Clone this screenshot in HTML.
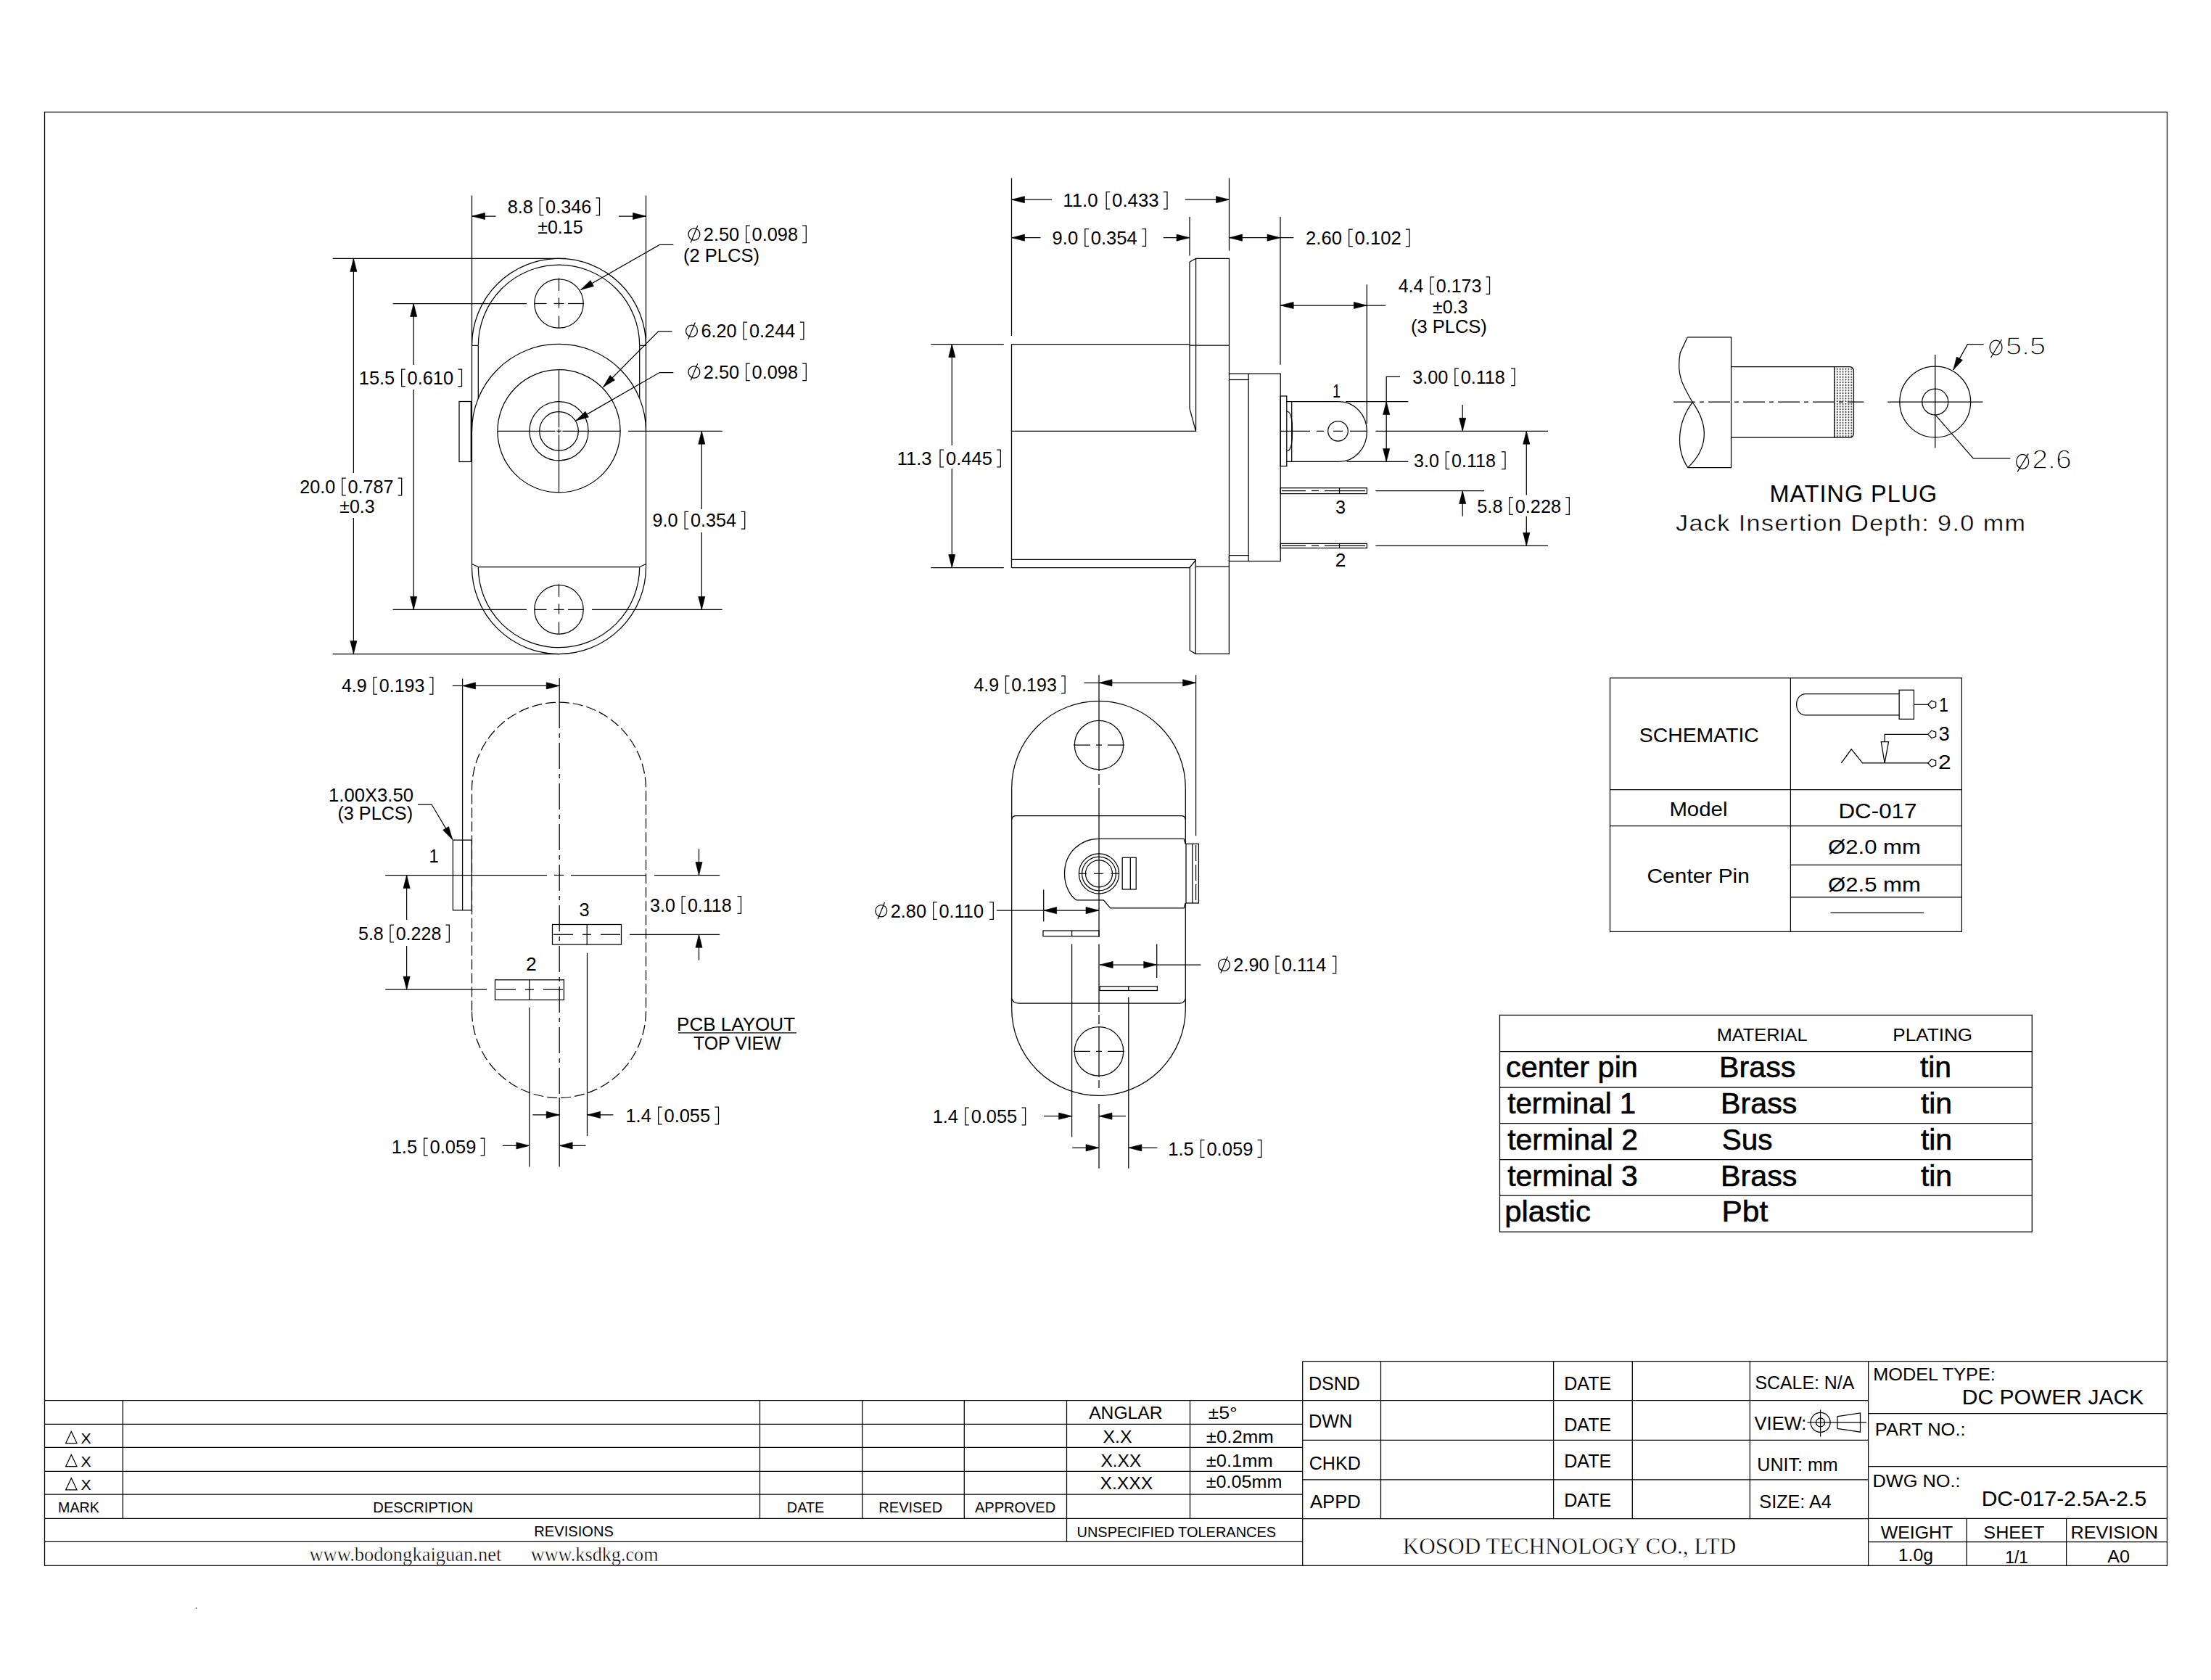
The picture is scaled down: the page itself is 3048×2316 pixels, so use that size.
<!DOCTYPE html>
<html><head><meta charset="utf-8"><title>DC-017 drawing</title>
<style>
html,body{margin:0;padding:0;background:#fff;}
body{width:3048px;height:2316px;overflow:hidden;}
svg{display:block;}
svg line, svg path, svg circle, svg rect, svg ellipse{fill:none;stroke:#000;stroke-width:1.25;}
svg path.ar{fill:#000;stroke:#000;stroke-width:0.6;}
svg text{font-family:"Liberation Sans",sans-serif;fill:#000;stroke:none;}
svg text.ts{font-family:"Liberation Serif",serif;}
</style></head><body>
<svg width="3048" height="2316" viewBox="0 0 3048 2316">
<rect x="0" y="0" width="3048" height="2316" style="fill:#fff;stroke:none"/>
<rect x="61.5" y="154.5" width="2926" height="2003.8" stroke-width="1.4"/>
<line x1="650.5" y1="269.4" x2="650.5" y2="781.5"/>
<line x1="890.5" y1="269.4" x2="890.5" y2="781.5"/>
<path d="M650.5 476.4 A120 120 0 0 1 890.5 476.4"/>
<path d="M650.5 781.5 A120 120 0 0 0 890.5 781.5"/>
<path d="M659.3 476.4 A111.2 111.2 0 0 1 881.7 476.4"/>
<path d="M659.3 781.5 A111.2 111.2 0 0 0 881.7 781.5"/>
<line x1="650.5" y1="476.4" x2="659.3" y2="476.4"/>
<line x1="890.5" y1="476.4" x2="881.7" y2="476.4"/>
<line x1="659.3" y1="476.4" x2="659.3" y2="549.19"/>
<line x1="881.7" y1="476.4" x2="881.7" y2="549.19"/>
<path d="M650.5 594.3 A120 120 0 0 1 890.5 594.3"/>
<line x1="659.3" y1="781.5" x2="881.7" y2="781.5"/>
<line x1="650.5" y1="777.5" x2="659.3" y2="781.5"/>
<line x1="890.5" y1="777.5" x2="881.7" y2="781.5"/>
<circle cx="770.5" cy="418.5" r="33.7"/>
<line x1="763.5" y1="418.5" x2="777.5" y2="418.5"/>
<line x1="770.5" y1="410.5" x2="770.5" y2="424.5"/>
<line x1="736.5" y1="418.5" x2="753.5" y2="418.5"/>
<line x1="783" y1="418.5" x2="804.5" y2="418.5"/>
<line x1="770.5" y1="383.5" x2="770.5" y2="401"/>
<line x1="770.5" y1="435.5" x2="770.5" y2="452.5"/>
<circle cx="770.5" cy="840.4" r="33.7"/>
<line x1="763.5" y1="840.4" x2="777.5" y2="840.4"/>
<line x1="770.5" y1="832.4" x2="770.5" y2="846.4"/>
<line x1="736.5" y1="840.4" x2="753.5" y2="840.4"/>
<line x1="783" y1="840.4" x2="804.5" y2="840.4"/>
<line x1="770.5" y1="805.4" x2="770.5" y2="822.9"/>
<line x1="770.5" y1="857.4" x2="770.5" y2="874.4"/>
<circle cx="770.5" cy="594.3" r="84.6"/>
<circle cx="770.5" cy="594.3" r="40.6"/>
<circle cx="770.5" cy="594.3" r="26.8"/>
<line x1="685.9" y1="594.3" x2="765.5" y2="594.3"/>
<line x1="775.5" y1="594.3" x2="855.1" y2="594.3"/>
<line x1="770.5" y1="509.7" x2="770.5" y2="589.3"/>
<line x1="770.5" y1="599.3" x2="770.5" y2="678.9"/>
<line x1="767.5" y1="594.3" x2="773.5" y2="594.3"/>
<line x1="770.5" y1="591.3" x2="770.5" y2="597.3"/>
<rect x="633" y="553.5" width="16.3" height="83"/>
<line x1="650.5" y1="298" x2="683.5" y2="298"/>
<line x1="853" y1="298" x2="890.5" y2="298"/>
<path class="ar" d="M650.5 298 L668.5 293.4 L668.5 302.6 Z"/>
<path class="ar" d="M890.5 298 L872.5 302.6 L872.5 293.4 Z"/>
<text class="t" transform="translate(699.8 293.7) scale(1.0099 1.0000)" font-size="25">8.8</text>
<path d="M749.36 272.9 L744.31 272.9 L744.31 296.5 L749.36 296.5" stroke-width="1.1"/>
<text class="t" transform="translate(752.11 293.7) scale(1.0099 1.0000)" font-size="25">0.346</text>
<path d="M821.45 272.9 L826.5 272.9 L826.5 296.5 L821.45 296.5" stroke-width="1.1"/>
<text class="t" x="741.21" y="321.7" font-size="25">±0.15</text>
<line x1="458.7" y1="356.4" x2="780" y2="356.4"/>
<line x1="458.7" y1="901.5" x2="771" y2="901.5"/>
<line x1="487.4" y1="356.4" x2="487.4" y2="652"/>
<line x1="487.4" y1="714" x2="487.4" y2="901.5"/>
<path class="ar" d="M487.4 356.4 L492 374.4 L482.8 374.4 Z"/>
<path class="ar" d="M487.4 901.5 L482.8 883.5 L492 883.5 Z"/>
<text class="t" transform="translate(413.23 680) scale(1.0083 1.0000)" font-size="25">20.0</text>
<path d="M476.84 659.2 L471.8 659.2 L471.8 682.8 L476.84 682.8" stroke-width="1.1"/>
<text class="t" transform="translate(479.58 680) scale(1.0083 1.0000)" font-size="25">0.787</text>
<path d="M548.66 659.2 L553.7 659.2 L553.7 682.8 L548.66 682.8" stroke-width="1.1"/>
<text class="t" x="468.2" y="707.3" font-size="25">±0.3</text>
<line x1="541.6" y1="418.5" x2="726" y2="418.5"/>
<line x1="541.6" y1="840.4" x2="726" y2="840.4"/>
<line x1="570.2" y1="418.5" x2="570.2" y2="503"/>
<line x1="570.2" y1="537" x2="570.2" y2="840.4"/>
<path class="ar" d="M570.2 418.5 L574.8 436.5 L565.6 436.5 Z"/>
<path class="ar" d="M570.2 840.4 L565.6 822.4 L574.8 822.4 Z"/>
<text class="t" transform="translate(494.77 529.8) scale(1.0159 1.0000)" font-size="25">15.5</text>
<path d="M558.78 509 L553.7 509 L553.7 532.6 L558.78 532.6" stroke-width="1.1"/>
<text class="t" transform="translate(561.54 529.8) scale(1.0159 1.0000)" font-size="25">0.610</text>
<path d="M631.42 509 L636.5 509 L636.5 532.6 L631.42 532.6" stroke-width="1.1"/>
<line x1="866.2" y1="594.3" x2="995.7" y2="594.3"/>
<line x1="816" y1="840.4" x2="995.6" y2="840.4"/>
<line x1="967.3" y1="594.3" x2="967.3" y2="702"/>
<line x1="967.3" y1="734" x2="967.3" y2="840.4"/>
<path class="ar" d="M967.3 594.3 L971.9 612.3 L962.7 612.3 Z"/>
<path class="ar" d="M967.3 840.4 L962.7 822.4 L971.9 822.4 Z"/>
<text class="t" transform="translate(899.52 726.2) scale(1.0100 1.0000)" font-size="25">9.0</text>
<path d="M949.18 705.4 L944.13 705.4 L944.13 729 L949.18 729" stroke-width="1.1"/>
<text class="t" transform="translate(951.93 726.2) scale(1.0100 1.0000)" font-size="25">0.354</text>
<path d="M1021.65 705.4 L1026.7 705.4 L1026.7 729 L1021.65 729" stroke-width="1.1"/>
<path d="M928.3 337.4 L909.3 337.4 L800.6 399.5"/>
<path class="ar" d="M800.6 399.5 L813.95 386.58 L818.51 394.57 Z"/>
<ellipse cx="956.9" cy="323" rx="7.9" ry="8.2" stroke-width="1.1"/>
<line x1="952.2" y1="334.4" x2="961.7" y2="311.3" stroke-width="1.1"/>
<text class="t" transform="translate(969.84 331.8) scale(1.0142 1.0000)" font-size="25">2.50</text>
<path d="M1033.81 311 L1028.74 311 L1028.74 334.6 L1033.81 334.6" stroke-width="1.1"/>
<text class="t" transform="translate(1036.58 331.8) scale(1.0142 1.0000)" font-size="25">0.098</text>
<path d="M1106.23 311 L1111.3 311 L1111.3 334.6 L1106.23 334.6" stroke-width="1.1"/>
<text class="t" transform="translate(942.02 360.8) scale(1.0200 1.0000)" font-size="25">(2 PLCS)</text>
<path d="M926.6 456.8 L907.6 456.8 L831.6 533.5"/>
<path class="ar" d="M831.6 533.5 L841 517.48 L847.54 523.95 Z"/>
<ellipse cx="953.5" cy="456.2" rx="7.9" ry="8.2" stroke-width="1.1"/>
<line x1="948.8" y1="467.6" x2="958.3" y2="444.5" stroke-width="1.1"/>
<text class="t" transform="translate(966.38 465) scale(1.0121 1.0000)" font-size="25">6.20</text>
<path d="M1030.22 444.2 L1025.16 444.2 L1025.16 467.8 L1030.22 467.8" stroke-width="1.1"/>
<text class="t" transform="translate(1032.98 465) scale(1.0121 1.0000)" font-size="25">0.244</text>
<path d="M1102.84 444.2 L1107.9 444.2 L1107.9 467.8 L1102.84 467.8" stroke-width="1.1"/>
<path d="M928.3 513.5 L909.3 513.5 L793.6 580.1"/>
<path class="ar" d="M793.6 580.1 L806.91 567.13 L811.49 575.11 Z"/>
<ellipse cx="956.9" cy="513" rx="7.9" ry="8.2" stroke-width="1.1"/>
<line x1="952.2" y1="524.4" x2="961.7" y2="501.3" stroke-width="1.1"/>
<text class="t" transform="translate(969.84 521.8) scale(1.0142 1.0000)" font-size="25">2.50</text>
<path d="M1033.81 501 L1028.74 501 L1028.74 524.6 L1033.81 524.6" stroke-width="1.1"/>
<text class="t" transform="translate(1036.58 521.8) scale(1.0142 1.0000)" font-size="25">0.098</text>
<path d="M1106.23 501 L1111.3 501 L1111.3 524.6 L1106.23 524.6" stroke-width="1.1"/>
<path d="M650.5 1393.4 L650.5 1088.2 A120 120 0 0 1 890.5 1088.2 L890.5 1393.4 A120 120 0 0 1 650.5 1393.4 Z" stroke-dasharray="14 5"/>
<line x1="771.2" y1="935" x2="771.2" y2="968"/>
<line x1="771.2" y1="968" x2="771.2" y2="1513" stroke-dasharray="36 7 6 7"/>
<line x1="771.2" y1="1513" x2="771.2" y2="1608.4"/>
<line x1="531.2" y1="1206.5" x2="754" y2="1206.5"/>
<line x1="764" y1="1206.5" x2="777" y2="1206.5"/>
<line x1="787" y1="1206.5" x2="890" y2="1206.5"/>
<line x1="902" y1="1206.5" x2="992.2" y2="1206.5"/>
<rect x="624.4" y="1158.1" width="25.9" height="96.7"/>
<line x1="637.6" y1="935.4" x2="637.6" y2="1254.8"/>
<rect x="761.5" y="1274.5" width="95" height="27.6"/>
<line x1="809.2" y1="1274.5" x2="809.2" y2="1302.1"/>
<line x1="763" y1="1288.3" x2="790" y2="1288.3"/>
<line x1="803" y1="1288.3" x2="815" y2="1288.3"/>
<line x1="828" y1="1288.3" x2="855" y2="1288.3"/>
<rect x="682.5" y="1350.8" width="94.9" height="27.6"/>
<line x1="729.8" y1="1350.8" x2="729.8" y2="1378.4"/>
<line x1="684" y1="1364.2" x2="711" y2="1364.2"/>
<line x1="724" y1="1364.2" x2="736" y2="1364.2"/>
<line x1="749" y1="1364.2" x2="776" y2="1364.2"/>
<text class="t" transform="translate(591.58 1189.2) scale(0.9556 1.0000)" font-size="25">1</text>
<text class="t" transform="translate(798.53 1263.4) scale(1.0208 1.0000)" font-size="25">3</text>
<text class="t" transform="translate(724.96 1337.7) scale(1.0624 1.0000)" font-size="25">2</text>
<line x1="623.8" y1="945.4" x2="771.2" y2="945.4"/>
<path class="ar" d="M637.6 945.4 L655.6 940.8 L655.6 950 Z"/>
<path class="ar" d="M771.2 945.4 L753.2 950 L753.2 940.8 Z"/>
<text class="t" x="470.92" y="954.4" font-size="25">4.9</text>
<path d="M520.1 933.6 L515.08 933.6 L515.08 957.2 L520.1 957.2" stroke-width="1.1"/>
<text class="t" x="522.83" y="954.4" font-size="25">0.193</text>
<path d="M591.78 933.6 L596.8 933.6 L596.8 957.2 L591.78 957.2" stroke-width="1.1"/>
<path d="M576 1109 L595 1109 L623.8 1157.4"/>
<path class="ar" d="M623.8 1157.4 L610.64 1144.28 L618.55 1139.58 Z"/>
<text class="t" transform="translate(453.05 1104.6) scale(1.0260 1.0000)" font-size="25">1.00X3.50</text>
<text class="t" transform="translate(465.44 1130) scale(1.0080 1.0000)" font-size="25">(3 PLCS)</text>
<line x1="963.5" y1="1170.2" x2="963.5" y2="1206.5"/>
<path class="ar" d="M963.5 1206.5 L958.9 1188.5 L968.1 1188.5 Z"/>
<line x1="963.5" y1="1323.8" x2="963.5" y2="1288.3"/>
<path class="ar" d="M963.5 1288.3 L968.1 1306.3 L958.9 1306.3 Z"/>
<line x1="867.9" y1="1288.3" x2="992.2" y2="1288.3"/>
<text class="t" x="896.05" y="1256.5" font-size="25">3.0</text>
<path d="M945.18 1235.7 L940.18 1235.7 L940.18 1259.3 L945.18 1259.3" stroke-width="1.1"/>
<text class="t" x="947.9" y="1256.5" font-size="25">0.118</text>
<path d="M1016.5 1235.7 L1021.5 1235.7 L1021.5 1259.3 L1016.5 1259.3" stroke-width="1.1"/>
<line x1="560.6" y1="1206.5" x2="560.6" y2="1268"/>
<line x1="560.6" y1="1304" x2="560.6" y2="1364.2"/>
<path class="ar" d="M560.6 1206.5 L565.2 1224.5 L556 1224.5 Z"/>
<path class="ar" d="M560.6 1364.2 L556 1346.2 L565.2 1346.2 Z"/>
<line x1="531.2" y1="1364.2" x2="671" y2="1364.2"/>
<text class="t" x="494" y="1296" font-size="25">5.8</text>
<path d="M543 1275.2 L538.01 1275.2 L538.01 1298.8 L543 1298.8" stroke-width="1.1"/>
<text class="t" x="545.72" y="1296" font-size="25">0.228</text>
<path d="M614.31 1275.2 L619.3 1275.2 L619.3 1298.8 L614.31 1298.8" stroke-width="1.1"/>
<line x1="729.8" y1="1389" x2="729.8" y2="1608.4"/>
<line x1="809.5" y1="1313.8" x2="809.5" y2="1565.9"/>
<line x1="734.3" y1="1536.9" x2="771.2" y2="1536.9"/>
<path class="ar" d="M771.2 1536.9 L753.2 1541.5 L753.2 1532.3 Z"/>
<line x1="809.5" y1="1536.9" x2="845.4" y2="1536.9"/>
<path class="ar" d="M809.5 1536.9 L827.5 1532.3 L827.5 1541.5 Z"/>
<text class="t" transform="translate(862.46 1547) scale(1.0173 1.0000)" font-size="25">1.4</text>
<path d="M912.74 1526.2 L907.65 1526.2 L907.65 1549.8 L912.74 1549.8" stroke-width="1.1"/>
<text class="t" transform="translate(915.51 1547) scale(1.0173 1.0000)" font-size="25">0.055</text>
<path d="M985.41 1526.2 L990.5 1526.2 L990.5 1549.8 L985.41 1549.8" stroke-width="1.1"/>
<line x1="692.8" y1="1579.4" x2="729.8" y2="1579.4"/>
<path class="ar" d="M729.8 1579.4 L711.8 1584 L711.8 1574.8 Z"/>
<line x1="771.2" y1="1579.4" x2="807.5" y2="1579.4"/>
<path class="ar" d="M771.2 1579.4 L789.2 1574.8 L789.2 1584 Z"/>
<text class="t" transform="translate(539.66 1590) scale(1.0202 1.0000)" font-size="25">1.5</text>
<path d="M589.75 1569.2 L584.65 1569.2 L584.65 1592.8 L589.75 1592.8" stroke-width="1.1"/>
<text class="t" transform="translate(592.53 1590) scale(1.0202 1.0000)" font-size="25">0.059</text>
<path d="M662.5 1569.2 L667.6 1569.2 L667.6 1592.8 L662.5 1592.8" stroke-width="1.1"/>
<text class="t" transform="translate(933.06 1421) scale(1.0421 1.0000)" font-size="25">PCB LAYOUT</text>
<line x1="935" y1="1423.8" x2="1098" y2="1423.8"/>
<text class="t" transform="translate(956.04 1446.8) scale(0.9944 1.0000)" font-size="25">TOP VIEW</text>
<line x1="1394.5" y1="245.5" x2="1394.5" y2="463"/>
<line x1="1394.5" y1="474.5" x2="1394.5" y2="782.5"/>
<line x1="1394.5" y1="474.5" x2="1640" y2="474.5"/>
<line x1="1394.5" y1="594.3" x2="1648.6" y2="594.3"/>
<line x1="1394.5" y1="771.4" x2="1648.6" y2="771.4"/>
<line x1="1394.5" y1="782.5" x2="1640" y2="782.5"/>
<line x1="1640" y1="782.5" x2="1648.6" y2="772"/>
<path d="M1640 361 L1648.6 356.4 L1694.5 356.4 L1694.5 515.2"/>
<line x1="1640" y1="361" x2="1640" y2="563.2"/>
<line x1="1640" y1="563.2" x2="1648.6" y2="594.9"/>
<line x1="1648.6" y1="356.4" x2="1648.6" y2="594.3"/>
<line x1="1640" y1="476.2" x2="1694.5" y2="476.2"/>
<path d="M1640.3 781.7 L1640.3 896.7 L1648.2 901.4 L1694.4 901.4 L1694.4 765.6"/>
<line x1="1648.2" y1="771.3" x2="1648.2" y2="901.4"/>
<line x1="1648.2" y1="781.2" x2="1694.4" y2="781.2"/>
<rect x="1694.5" y="515.2" width="70.7" height="258.4"/>
<line x1="1694.5" y1="523.5" x2="1721.1" y2="523.5"/>
<line x1="1721.1" y1="515.2" x2="1721.1" y2="773.6"/>
<line x1="1694.4" y1="765.6" x2="1721.1" y2="765.6"/>
<rect x="1765.2" y="546" width="8.6" height="96.6"/>
<line x1="1773.8" y1="553.5" x2="1846.3" y2="553.5"/>
<line x1="1773.8" y1="636.4" x2="1846.3" y2="636.4"/>
<path d="M1846.3 553.5 A38.1 41.45 0 0 1 1846.3 636.4"/>
<line x1="1780.7" y1="553.5" x2="1780.7" y2="636.4"/>
<path d="M1774 567 Q1782 568 1781.5 594.3 Q1782 621 1774 622"/>
<circle cx="1844.5" cy="594.3" r="13.8"/>
<line x1="1765.2" y1="594.3" x2="1806" y2="594.3"/>
<line x1="1815" y1="594.3" x2="1825" y2="594.3"/>
<line x1="1838" y1="594.3" x2="1851" y2="594.3"/>
<line x1="1861" y1="594.3" x2="1885" y2="594.3"/>
<line x1="1896.4" y1="594.3" x2="2134" y2="594.3"/>
<rect x="1765.2" y="672.7" width="119.2" height="7.9"/>
<line x1="1846.5" y1="672.7" x2="1846.5" y2="680.6"/>
<line x1="1767" y1="676.5" x2="1800" y2="676.5"/>
<line x1="1808" y1="676.5" x2="1818" y2="676.5"/>
<line x1="1826" y1="676.5" x2="1882" y2="676.5"/>
<rect x="1765.2" y="749.4" width="119.2" height="6.1"/>
<line x1="1846.5" y1="749.4" x2="1846.5" y2="755.5"/>
<line x1="1767" y1="752.4" x2="1800" y2="752.4"/>
<line x1="1808" y1="752.4" x2="1818" y2="752.4"/>
<line x1="1826" y1="752.4" x2="1882" y2="752.4"/>
<line x1="1896.4" y1="676.5" x2="2046" y2="676.5"/>
<line x1="1896.4" y1="752.4" x2="2134" y2="752.4"/>
<text class="t" transform="translate(1837 547.7) scale(0.7886 1.0000)" font-size="25">1</text>
<text class="t" transform="translate(1841.04 708.2) scale(1.0124 1.0000)" font-size="25">3</text>
<text class="t" transform="translate(1840.68 780.8) scale(1.0536 1.0000)" font-size="25">2</text>
<line x1="1694.5" y1="245.5" x2="1694.5" y2="345.7"/>
<line x1="1394.5" y1="275.2" x2="1450" y2="275.2"/>
<line x1="1633.8" y1="275.2" x2="1694.5" y2="275.2"/>
<path class="ar" d="M1394.5 275.2 L1412.5 270.6 L1412.5 279.8 Z"/>
<path class="ar" d="M1694.5 275.2 L1676.5 279.8 L1676.5 270.6 Z"/>
<text class="t" transform="translate(1465.34 285.3) scale(1.0301 1.0000)" font-size="25">11.0</text>
<path d="M1530.32 264.5 L1525.17 264.5 L1525.17 288.1 L1530.32 288.1" stroke-width="1.1"/>
<text class="t" transform="translate(1533.12 285.3) scale(1.0301 1.0000)" font-size="25">0.433</text>
<path d="M1603.85 264.5 L1609 264.5 L1609 288.1 L1603.85 288.1" stroke-width="1.1"/>
<line x1="1640" y1="299" x2="1640" y2="352.6"/>
<line x1="1394.5" y1="327.7" x2="1434.5" y2="327.7"/>
<line x1="1603.7" y1="327.7" x2="1640" y2="327.7"/>
<path class="ar" d="M1394.5 327.7 L1412.5 323.1 L1412.5 332.3 Z"/>
<path class="ar" d="M1640 327.7 L1622 332.3 L1622 323.1 Z"/>
<text class="t" transform="translate(1450.6 336.5) scale(1.0236 1.0000)" font-size="25">9.0</text>
<path d="M1500.94 315.7 L1495.82 315.7 L1495.82 339.3 L1500.94 339.3" stroke-width="1.1"/>
<text class="t" transform="translate(1503.73 336.5) scale(1.0236 1.0000)" font-size="25">0.354</text>
<path d="M1574.38 315.7 L1579.5 315.7 L1579.5 339.3 L1574.38 339.3" stroke-width="1.1"/>
<line x1="1765" y1="299" x2="1765" y2="502.8"/>
<line x1="1694.5" y1="327.7" x2="1783.3" y2="327.7"/>
<path class="ar" d="M1694.5 327.7 L1712.5 323.1 L1712.5 332.3 Z"/>
<path class="ar" d="M1765 327.7 L1747 332.3 L1747 323.1 Z"/>
<text class="t" transform="translate(1800.11 336.8) scale(1.0257 1.0000)" font-size="25">2.60</text>
<path d="M1864.81 316 L1859.68 316 L1859.68 339.6 L1864.81 339.6" stroke-width="1.1"/>
<text class="t" transform="translate(1867.61 336.8) scale(1.0257 1.0000)" font-size="25">0.102</text>
<path d="M1937.87 316 L1943 316 L1943 339.6 L1937.87 339.6" stroke-width="1.1"/>
<line x1="1283.3" y1="474.5" x2="1383.8" y2="474.5"/>
<line x1="1283.3" y1="782.5" x2="1383.8" y2="782.5"/>
<line x1="1312.3" y1="474.5" x2="1312.3" y2="614"/>
<line x1="1312.3" y1="646" x2="1312.3" y2="782.5"/>
<path class="ar" d="M1312.3 474.5 L1316.9 492.5 L1307.7 492.5 Z"/>
<path class="ar" d="M1312.3 782.5 L1307.7 764.5 L1316.9 764.5 Z"/>
<text class="t" transform="translate(1236.75 641) scale(1.0226 1.0000)" font-size="25">11.3</text>
<path d="M1301.14 620.2 L1296.02 620.2 L1296.02 643.8 L1301.14 643.8" stroke-width="1.1"/>
<text class="t" transform="translate(1303.92 641) scale(1.0226 1.0000)" font-size="25">0.445</text>
<path d="M1374.19 620.2 L1379.3 620.2 L1379.3 643.8 L1374.19 643.8" stroke-width="1.1"/>
<line x1="1884.3" y1="392.3" x2="1884.3" y2="584"/>
<line x1="1765.2" y1="421" x2="1910.2" y2="421"/>
<path class="ar" d="M1765.2 421 L1783.2 416.4 L1783.2 425.6 Z"/>
<path class="ar" d="M1884.3 421 L1866.3 425.6 L1866.3 416.4 Z"/>
<text class="t" x="1927.63" y="402.6" font-size="25">4.4</text>
<path d="M1977.07 381.8 L1972.07 381.8 L1972.07 405.4 L1977.07 405.4" stroke-width="1.1"/>
<text class="t" x="1979.8" y="402.6" font-size="25">0.173</text>
<path d="M2048.5 381.8 L2053.5 381.8 L2053.5 405.4 L2048.5 405.4" stroke-width="1.1"/>
<text class="t" x="1975.01" y="432" font-size="25">±0.3</text>
<text class="t" transform="translate(1944.92 459) scale(1.0210 1.0000)" font-size="25">(3 PLCS)</text>
<line x1="1855" y1="553.5" x2="1941.3" y2="553.5"/>
<line x1="1856.7" y1="636.4" x2="1941.3" y2="636.4"/>
<path d="M1929.9 519.4 L1911.2 519.4 L1911.2 636.4"/>
<path class="ar" d="M1911.2 553.5 L1915.8 571.5 L1906.6 571.5 Z"/>
<path class="ar" d="M1911.2 636.4 L1906.6 618.4 L1915.8 618.4 Z"/>
<text class="t" transform="translate(1947.24 528.7) scale(1.0092 1.0000)" font-size="25">3.00</text>
<path d="M2010.9 507.9 L2005.85 507.9 L2005.85 531.5 L2010.9 531.5" stroke-width="1.1"/>
<text class="t" transform="translate(2013.65 528.7) scale(1.0092 1.0000)" font-size="25">0.118</text>
<path d="M2082.95 507.9 L2088 507.9 L2088 531.5 L2082.95 531.5" stroke-width="1.1"/>
<line x1="2016.2" y1="558" x2="2016.2" y2="594.3"/>
<path class="ar" d="M2016.2 594.3 L2011.6 576.3 L2020.8 576.3 Z"/>
<line x1="2016.2" y1="711.7" x2="2016.2" y2="676.5"/>
<path class="ar" d="M2016.2 676.5 L2020.8 694.5 L2011.6 694.5 Z"/>
<text class="t" x="1949.04" y="643.7" font-size="25">3.0</text>
<path d="M1998.37 622.9 L1993.36 622.9 L1993.36 646.5 L1998.37 646.5" stroke-width="1.1"/>
<text class="t" x="2001.1" y="643.7" font-size="25">0.118</text>
<path d="M2069.98 622.9 L2075 622.9 L2075 646.5 L2069.98 646.5" stroke-width="1.1"/>
<line x1="2104.3" y1="594.3" x2="2104.3" y2="682.4"/>
<line x1="2104.3" y1="711.7" x2="2104.3" y2="752.4"/>
<path class="ar" d="M2104.3 594.3 L2108.9 612.3 L2099.7 612.3 Z"/>
<path class="ar" d="M2104.3 752.4 L2099.7 734.4 L2108.9 734.4 Z"/>
<text class="t" transform="translate(2036.29 706.5) scale(1.0123 1.0000)" font-size="25">5.8</text>
<path d="M2085.96 685.7 L2080.9 685.7 L2080.9 709.3 L2085.96 709.3" stroke-width="1.1"/>
<text class="t" transform="translate(2088.72 706.5) scale(1.0123 1.0000)" font-size="25">0.228</text>
<path d="M2158.24 685.7 L2163.3 685.7 L2163.3 709.3 L2158.24 709.3" stroke-width="1.1"/>
<path d="M2326.2 464.89 L2386.54 464.89 L2386.54 644.59 L2326.73 644.59"/>
<path d="M2326.2 464.89 L2316.23 486.4 C2310.99 516.57 2318.86 529.69 2333.28 554.61"/>
<path d="M2333.28 554.61 C2356.89 587.4 2354.27 618.88 2326.73 644.59"/>
<path d="M2333.28 554.61 C2312.3 582.15 2309.67 618.88 2326.73 644.59"/>
<line x1="2386.54" y1="505.55" x2="2528.72" y2="505.55"/>
<line x1="2386.54" y1="603.14" x2="2528.72" y2="603.14"/>
<defs><pattern id="knurl" width="3.9" height="3.7" patternUnits="userSpaceOnUse"><rect x="1" y="0.8" width="1.3" height="2.0" style="fill:#000;stroke:none"/></pattern></defs>
<path d="M2528.72 505.55 L2549.48 505.55 Q2555.48 505.55 2555.48 512.55 L2555.48 596.14 Q2555.48 603.14 2549.48 603.14 L2528.72 603.14 Z" style="fill:url(#knurl);stroke:#000;stroke-width:1.25"/>
<line x1="2307.05" y1="554.08" x2="2569.38" y2="554.08" stroke-dasharray="30 6 6 6"/>
<circle cx="2667.75" cy="554.08" r="48.9"/>
<circle cx="2667.75" cy="554.08" r="18"/>
<line x1="2602.17" y1="554.08" x2="2733.34" y2="554.08"/>
<line x1="2667.75" y1="489.02" x2="2667.75" y2="617.57"/>
<path d="M2734.65 474.6 L2712.35 474.6 L2692.68 510.01"/>
<path class="ar" d="M2692.68 510.01 L2697.4 492.04 L2705.44 496.51 Z"/>
<path d="M2667.75 571.66 L2720.22 631.99 L2771.37 631.99"/>
<ellipse cx="2751.5" cy="479" rx="8.5" ry="10" stroke-width="1.1"/>
<line x1="2744.5" y1="493" x2="2759.5" y2="468" stroke-width="1.1"/>
<text class="t" transform="translate(2764.91 489) scale(1.1063 1.0000)" font-size="36" style="stroke:#fff;stroke-width:1.3px;paint-order:normal">5.5</text>
<ellipse cx="2788.2" cy="636.4" rx="8.5" ry="10" stroke-width="1.1"/>
<line x1="2781.2" y1="650.4" x2="2796.2" y2="625.4" stroke-width="1.1"/>
<text class="t" transform="translate(2801.23 646.4) scale(1.0889 1.0000)" font-size="36" style="stroke:#fff;stroke-width:1.3px;paint-order:normal">2.6</text>
<text class="t" x="2439.54" y="691.9" font-size="32.4" letter-spacing="1">MATING PLUG</text>
<text class="t" transform="translate(2309.97 731.5) scale(1.0743 1.0000)" font-size="31.8" style="stroke:#fff;stroke-width:0.4px" letter-spacing="1.3">Jack Insertion Depth: 9.0 mm</text>
<path d="M1394.7 1086.4 A119.8 119.8 0 0 1 1634.3 1086.4"/>
<path d="M1394.7 1390.5 A119.8 119.8 0 0 0 1634.3 1390.5"/>
<line x1="1394.7" y1="1086.4" x2="1394.7" y2="1390.5"/>
<line x1="1634.3" y1="1086.4" x2="1634.3" y2="1163.3"/>
<line x1="1634.3" y1="1245" x2="1634.3" y2="1390.5"/>
<line x1="1515" y1="930.6" x2="1515" y2="1063"/>
<line x1="1515" y1="1067" x2="1515" y2="1082"/>
<line x1="1515" y1="1086" x2="1515" y2="1292"/>
<line x1="1515" y1="1301.5" x2="1515" y2="1348" stroke-width="1.7"/>
<line x1="1515" y1="1348" x2="1515" y2="1395"/>
<line x1="1515" y1="1399" x2="1515" y2="1412"/>
<line x1="1515" y1="1416" x2="1515" y2="1485"/>
<line x1="1515" y1="1489" x2="1515" y2="1500"/>
<line x1="1515" y1="1522" x2="1515" y2="1610.8"/>
<circle cx="1515" cy="1027.1" r="33.7"/>
<line x1="1480" y1="1027.1" x2="1503" y2="1027.1"/>
<line x1="1511" y1="1027.1" x2="1519" y2="1027.1"/>
<line x1="1527" y1="1027.1" x2="1550" y2="1027.1"/>
<circle cx="1515" cy="1449.4" r="33.7"/>
<line x1="1480" y1="1449.4" x2="1503" y2="1449.4"/>
<line x1="1511" y1="1449.4" x2="1519" y2="1449.4"/>
<line x1="1527" y1="1449.4" x2="1550" y2="1449.4"/>
<path d="M1394.7 1130 Q1394.7 1124.7 1401.6 1124.7 L1628 1124.7 Q1634.3 1124.7 1634.3 1130"/>
<path d="M1394.7 1376.6 Q1396.7 1383.2 1404.8 1383.2 L1626.4 1383.2 Q1632.3 1383.2 1634.3 1376.6"/>
<rect x="1635" y="1163.3" width="17.4" height="81.7"/>
<line x1="1643.8" y1="1163.3" x2="1643.8" y2="1245"/>
<line x1="1648.6" y1="1165" x2="1648.6" y2="1245" stroke-dasharray="22 5"/>
<path d="M1634.3 1163.3 L1632.1 1156.3 L1515 1156.3 L1515 1156.3"/>
<path d="M1515 1156.3 C1490 1156.3 1467.5 1175 1467.5 1204.4 C1467.5 1222 1476 1236 1484 1240.8 L1521.3 1240.8 L1530.8 1251.9 L1632.1 1251.9 L1634.3 1245"/>
<circle cx="1515" cy="1204.4" r="27.6"/>
<circle cx="1515" cy="1204.4" r="23.4"/>
<circle cx="1515" cy="1204.4" r="18.5"/>
<line x1="1487.4" y1="1204.4" x2="1497.7" y2="1204.4"/>
<line x1="1508" y1="1204.4" x2="1520.6" y2="1204.4"/>
<line x1="1531.6" y1="1204.4" x2="1542.6" y2="1204.4"/>
<rect x="1547.2" y="1182.3" width="19" height="43.7"/>
<line x1="1558.3" y1="1182.3" x2="1558.3" y2="1226"/>
<rect x="1438" y="1283" width="77" height="7.6"/>
<line x1="1477.6" y1="1283" x2="1477.6" y2="1290.6"/>
<rect x="1516.2" y="1359.8" width="79.2" height="5.7"/>
<line x1="1555.8" y1="1359.8" x2="1555.8" y2="1365.5"/>
<line x1="1477.6" y1="1301.5" x2="1477.6" y2="1567.5"/>
<line x1="1555.8" y1="1375" x2="1555.8" y2="1610.8"/>
<line x1="1648.6" y1="930.6" x2="1648.6" y2="1152.2"/>
<line x1="1494.4" y1="941.3" x2="1648.6" y2="941.3"/>
<path class="ar" d="M1515 941.3 L1533 936.7 L1533 945.9 Z"/>
<path class="ar" d="M1648.6 941.3 L1630.6 945.9 L1630.6 936.7 Z"/>
<text class="t" x="1342.42" y="952.7" font-size="25">4.9</text>
<path d="M1391.52 931.9 L1386.51 931.9 L1386.51 955.5 L1391.52 955.5" stroke-width="1.1"/>
<text class="t" x="1394.25" y="952.7" font-size="25">0.193</text>
<path d="M1463.09 931.9 L1468.1 931.9 L1468.1 955.5 L1463.09 955.5" stroke-width="1.1"/>
<line x1="1438.7" y1="1226.6" x2="1438.7" y2="1270.3"/>
<line x1="1373.8" y1="1255.1" x2="1515" y2="1255.1"/>
<path class="ar" d="M1438.7 1255.1 L1456.7 1250.5 L1456.7 1259.7 Z"/>
<path class="ar" d="M1515 1255.1 L1497 1259.7 L1497 1250.5 Z"/>
<ellipse cx="1214.8" cy="1255.7" rx="7.9" ry="8.2" stroke-width="1.1"/>
<line x1="1210.1" y1="1267.1" x2="1219.6" y2="1244" stroke-width="1.1"/>
<text class="t" transform="translate(1227.73 1264.5) scale(1.0142 1.0000)" font-size="25">2.80</text>
<path d="M1291.71 1243.7 L1286.64 1243.7 L1286.64 1267.3 L1291.71 1267.3" stroke-width="1.1"/>
<text class="t" transform="translate(1294.47 1264.5) scale(1.0142 1.0000)" font-size="25">0.110</text>
<path d="M1364.23 1243.7 L1369.3 1243.7 L1369.3 1267.3 L1364.23 1267.3" stroke-width="1.1"/>
<line x1="1594.7" y1="1301.5" x2="1594.7" y2="1348"/>
<line x1="1516.2" y1="1330" x2="1655.5" y2="1330"/>
<path class="ar" d="M1516.2 1330 L1534.2 1325.4 L1534.2 1334.6 Z"/>
<path class="ar" d="M1594.7 1330 L1576.7 1334.6 L1576.7 1325.4 Z"/>
<ellipse cx="1687.5" cy="1330.2" rx="7.9" ry="8.2" stroke-width="1.1"/>
<line x1="1682.8" y1="1341.6" x2="1692.3" y2="1318.5" stroke-width="1.1"/>
<text class="t" transform="translate(1700.36 1339) scale(1.0108 1.0000)" font-size="25">2.90</text>
<path d="M1764.12 1318.2 L1759.07 1318.2 L1759.07 1341.8 L1764.12 1341.8" stroke-width="1.1"/>
<text class="t" transform="translate(1766.88 1339) scale(1.0108 1.0000)" font-size="25">0.114</text>
<path d="M1836.65 1318.2 L1841.7 1318.2 L1841.7 1341.8 L1836.65 1341.8" stroke-width="1.1"/>
<line x1="1439" y1="1538.7" x2="1477.6" y2="1538.7"/>
<path class="ar" d="M1477.6 1538.7 L1459.6 1543.3 L1459.6 1534.1 Z"/>
<line x1="1515" y1="1538.7" x2="1552" y2="1538.7"/>
<path class="ar" d="M1515 1538.7 L1533 1534.1 L1533 1543.3 Z"/>
<text class="t" transform="translate(1285.66 1548) scale(1.0165 1.0000)" font-size="25">1.4</text>
<path d="M1335.9 1527.2 L1330.82 1527.2 L1330.82 1550.8 L1335.9 1550.8" stroke-width="1.1"/>
<text class="t" transform="translate(1338.67 1548) scale(1.0165 1.0000)" font-size="25">0.055</text>
<path d="M1408.52 1527.2 L1413.6 1527.2 L1413.6 1550.8 L1408.52 1550.8" stroke-width="1.1"/>
<line x1="1478.2" y1="1582.3" x2="1515" y2="1582.3"/>
<path class="ar" d="M1515 1582.3 L1497 1586.9 L1497 1577.7 Z"/>
<line x1="1555.8" y1="1582.3" x2="1595.4" y2="1582.3"/>
<path class="ar" d="M1555.8 1582.3 L1573.8 1577.7 L1573.8 1586.9 Z"/>
<text class="t" transform="translate(1610.25 1592.5) scale(1.0251 1.0000)" font-size="25">1.5</text>
<path d="M1660.58 1571.7 L1655.46 1571.7 L1655.46 1595.3 L1660.58 1595.3" stroke-width="1.1"/>
<text class="t" transform="translate(1663.38 1592.5) scale(1.0251 1.0000)" font-size="25">0.059</text>
<path d="M1733.67 1571.7 L1738.8 1571.7 L1738.8 1595.3 L1733.67 1595.3" stroke-width="1.1"/>
<rect x="2219.5" y="934.7" width="484.9" height="349.7"/>
<line x1="2468.4" y1="934.7" x2="2468.4" y2="1284.4"/>
<line x1="2219.5" y1="1088.5" x2="2704.4" y2="1088.5"/>
<line x1="2219.5" y1="1138.6" x2="2704.4" y2="1138.6"/>
<line x1="2468.4" y1="1192.3" x2="2704.4" y2="1192.3"/>
<line x1="2468.4" y1="1236.8" x2="2704.4" y2="1236.8"/>
<line x1="2523.6" y1="1258.3" x2="2651.9" y2="1258.3"/>
<text class="t" transform="translate(2259.71 1022.6) scale(1.0526 1.0000)" font-size="27">SCHEMATIC</text>
<text class="t" transform="translate(2301.39 1125.2) scale(1.0889 1.0000)" font-size="27">Model</text>
<text class="t" transform="translate(2534.43 1127.6) scale(1.0452 1.0000)" font-size="30">DC-017</text>
<text class="t" transform="translate(2270.48 1216.8) scale(1.1090 1.0000)" font-size="27">Center Pin</text>
<text class="t" transform="translate(2520.12 1176.5) scale(1.1094 1.0000)" font-size="28">Ø2.0 mm</text>
<text class="t" transform="translate(2520.12 1229) scale(1.1094 1.0000)" font-size="28">Ø2.5 mm</text>
<path d="M2618.17 956.64 L2489.45 956.64 M2618.17 985.95 L2489.45 985.95 M2489.45 956.64 C2472.35 956.64 2472.35 985.95 2489.45 985.95"/>
<rect x="2618.17" y="951.27" width="20.27" height="40.06"/>
<path d="M2638.45 971.29 L2657.99 971.29"/>
<path d="M2598.14 1022.59 L2598.14 1012.33 L2657.99 1012.33"/>
<path d="M2593.26 1022.59 L2603.52 1022.59 L2598.14 1051.9 Z"/>
<path d="M2538.3 1051.9 L2552.22 1032.85 L2567.61 1051.9 L2657.99 1051.9"/>
<path d="M2657.76 971.29 L2662.86 966.09 L2668.66 968.09 L2668.66 974.49 L2662.86 976.49 Z"/>
<path d="M2657.76 1012.33 L2662.86 1007.13 L2668.66 1009.13 L2668.66 1015.53 L2662.86 1017.53 Z"/>
<path d="M2657.76 1051.9 L2662.86 1046.7 L2668.66 1048.7 L2668.66 1055.1 L2662.86 1057.1 Z"/>
<text class="t" transform="translate(2673.27 981) scale(0.8418 1.0000)" font-size="27">1</text>
<text class="t" transform="translate(2672.46 1020.6) scale(1.0155 1.0000)" font-size="27">3</text>
<text class="t" transform="translate(2671.9 1060.4) scale(1.1788 1.0000)" font-size="27">2</text>
<rect x="2067.5" y="1399.4" width="733.8" height="298.8"/>
<line x1="2067.5" y1="1449.5" x2="2801.3" y2="1449.5"/>
<line x1="2067.5" y1="1499.2" x2="2801.3" y2="1499.2"/>
<line x1="2067.5" y1="1548.6" x2="2801.3" y2="1548.6"/>
<line x1="2067.5" y1="1598.7" x2="2801.3" y2="1598.7"/>
<line x1="2067.5" y1="1648.1" x2="2801.3" y2="1648.1"/>
<text class="t" transform="translate(2366.72 1435.4) scale(1.0342 1.0000)" font-size="24.5">MATERIAL</text>
<text class="t" transform="translate(2609.36 1435.4) scale(1.0654 1.0000)" font-size="24.5">PLATING</text>
<text class="t" transform="translate(2075.94 1484.8) scale(1.0358 1.0000)" font-size="40" style="stroke:#000;stroke-width:0.6px">center pin</text>
<text class="t" transform="translate(2370.02 1484.8) scale(1.0306 1.0000)" font-size="40" style="stroke:#000;stroke-width:0.6px">Brass</text>
<text class="t" transform="translate(2646.88 1484.8) scale(1.0220 1.0000)" font-size="40" style="stroke:#000;stroke-width:0.6px">tin</text>
<text class="t" transform="translate(2078.19 1534.5) scale(1.0089 1.0000)" font-size="40" style="stroke:#000;stroke-width:0.6px">terminal 1</text>
<text class="t" transform="translate(2372.12 1534.5) scale(1.0306 1.0000)" font-size="40" style="stroke:#000;stroke-width:0.6px">Brass</text>
<text class="t" transform="translate(2647.88 1534.5) scale(1.0220 1.0000)" font-size="40" style="stroke:#000;stroke-width:0.6px">tin</text>
<text class="t" transform="translate(2078.18 1584.6) scale(1.0242 1.0000)" font-size="40" style="stroke:#000;stroke-width:0.6px">terminal 2</text>
<text class="t" transform="translate(2373.66 1584.6) scale(1.0127 1.0000)" font-size="40" style="stroke:#000;stroke-width:0.6px">Sus</text>
<text class="t" transform="translate(2647.88 1584.6) scale(1.0220 1.0000)" font-size="40" style="stroke:#000;stroke-width:0.6px">tin</text>
<text class="t" transform="translate(2078.18 1634.7) scale(1.0227 1.0000)" font-size="40" style="stroke:#000;stroke-width:0.6px">terminal 3</text>
<text class="t" transform="translate(2372.12 1634.7) scale(1.0306 1.0000)" font-size="40" style="stroke:#000;stroke-width:0.6px">Brass</text>
<text class="t" transform="translate(2647.88 1634.7) scale(1.0220 1.0000)" font-size="40" style="stroke:#000;stroke-width:0.6px">tin</text>
<text class="t" transform="translate(2074.31 1684.1) scale(1.0451 1.0000)" font-size="40" style="stroke:#000;stroke-width:0.6px">plastic</text>
<text class="t" transform="translate(2373.41 1684.1) scale(1.0626 1.0000)" font-size="40" style="stroke:#000;stroke-width:0.6px">Pbt</text>
<line x1="61.5" y1="1930.5" x2="1795.7" y2="1930.5"/>
<line x1="61.5" y1="1963.3" x2="1795.7" y2="1963.3"/>
<line x1="61.5" y1="1995.3" x2="1795.7" y2="1995.3"/>
<line x1="61.5" y1="2028.3" x2="1795.7" y2="2028.3"/>
<line x1="61.5" y1="2060.1" x2="1795.7" y2="2060.1"/>
<line x1="61.5" y1="2093.3" x2="1795.7" y2="2093.3"/>
<line x1="61.5" y1="2125.3" x2="1795.7" y2="2125.3"/>
<line x1="169.3" y1="1930.5" x2="169.3" y2="2093.3"/>
<line x1="1047.5" y1="1930.5" x2="1047.5" y2="2093.3"/>
<line x1="1188.8" y1="1930.5" x2="1188.8" y2="2093.3"/>
<line x1="1329.3" y1="1930.5" x2="1329.3" y2="2093.3"/>
<line x1="1470.5" y1="1930.5" x2="1470.5" y2="2125.3"/>
<line x1="1640.5" y1="1930.5" x2="1640.5" y2="2093.3"/>
<line x1="1795.7" y1="1876.7" x2="1795.7" y2="2158.3"/>
<line x1="1795.7" y1="1876.7" x2="2987.5" y2="1876.7"/>
<path d="M90.7 1989.5 L98.3 1973.5 L106 1989.5 Z" stroke-width="1"/>
<text class="t" transform="translate(111.52 1989.5) scale(1.0665 1.0000)" font-size="20">X</text>
<path d="M90.7 2021.5 L98.3 2005.5 L106 2021.5 Z" stroke-width="1"/>
<text class="t" transform="translate(111.52 2021.5) scale(1.0665 1.0000)" font-size="20">X</text>
<path d="M90.7 2053.8 L98.3 2037.8 L106 2053.8 Z" stroke-width="1"/>
<text class="t" transform="translate(111.52 2053.8) scale(1.0665 1.0000)" font-size="20">X</text>
<text class="t" transform="translate(80.09 2085.2) scale(0.9836 1.0000)" font-size="20">MARK</text>
<text class="t" transform="translate(514.35 2085.2) scale(1.0074 1.0000)" font-size="20">DESCRIPTION</text>
<text class="t" transform="translate(1084.87 2084.9) scale(0.9691 1.0000)" font-size="20.5">DATE</text>
<text class="t" transform="translate(1211.36 2084.9) scale(0.9756 1.0000)" font-size="20.5">REVISED</text>
<text class="t" transform="translate(1343.96 2084.9) scale(0.9761 1.0000)" font-size="20.5">APPROVED</text>
<text class="t" transform="translate(736.35 2117.8) scale(0.9815 1.0000)" font-size="20.5">REVISIONS</text>
<text class="t" transform="translate(1484.46 2118.7) scale(0.9519 1.0000)" font-size="21">UNSPECIFIED TOLERANCES</text>
<text class="t" transform="translate(1501.15 1956.3) scale(1.0283 1.0000)" font-size="24">ANGLAR</text>
<text class="t" transform="translate(1665.55 1956.3) scale(1.1146 1.0000)" font-size="24">±5°</text>
<text class="t" transform="translate(1520.44 1989.4) scale(1.0361 1.0000)" font-size="24">X.X</text>
<text class="t" transform="translate(1662.78 1989.4) scale(1.0739 1.0000)" font-size="24">±0.2mm</text>
<text class="t" transform="translate(1517.45 2022) scale(1.0215 1.0000)" font-size="24">X.XX</text>
<text class="t" transform="translate(1662.79 2022) scale(1.0621 1.0000)" font-size="24">±0.1mm</text>
<text class="t" transform="translate(1516.44 2052.5) scale(1.0308 1.0000)" font-size="24">X.XXX</text>
<text class="t" transform="translate(1662.8 2051) scale(1.0490 1.0000)" font-size="24">±0.05mm</text>
<text class="ts" transform="translate(426.47 2152.4) scale(0.9828 1.0000)" font-size="27" style="stroke:#fff;stroke-width:0.4px">www.bodongkaiguan.net</text>
<text class="ts" transform="translate(731.77 2152.4) scale(0.9702 1.0000)" font-size="27" style="stroke:#fff;stroke-width:0.4px">www.ksdkg.com</text>
<line x1="1903.5" y1="1876.7" x2="1903.5" y2="2093.7"/>
<line x1="2141.6" y1="1876.7" x2="2141.6" y2="2093.7"/>
<line x1="2250.3" y1="1876.7" x2="2250.3" y2="2093.7"/>
<line x1="2412.4" y1="1876.7" x2="2412.4" y2="2093.7"/>
<line x1="2575.6" y1="1876.7" x2="2575.6" y2="2158.3"/>
<line x1="1795.7" y1="1930.5" x2="2575.6" y2="1930.5"/>
<line x1="1795.7" y1="1985.4" x2="2575.6" y2="1985.4"/>
<line x1="1795.7" y1="2039.9" x2="2575.6" y2="2039.9"/>
<line x1="1795.7" y1="2093.7" x2="2575.6" y2="2093.7"/>
<text class="t" transform="translate(1803.94 1915.6) scale(0.9834 1.0000)" font-size="25.5">DSND</text>
<text class="t" transform="translate(1803.92 1967.6) scale(0.9925 1.0000)" font-size="25.5">DWN</text>
<text class="t" transform="translate(1804.73 2026.2) scale(0.9837 1.0000)" font-size="25.5">CHKD</text>
<text class="t" transform="translate(1805.95 2078.8) scale(1.0063 1.0000)" font-size="25.5">APPD</text>
<text class="t" transform="translate(2156.24 1916.4) scale(0.9827 1.0000)" font-size="25.5">DATE</text>
<text class="t" transform="translate(2156.24 1973.1) scale(0.9827 1.0000)" font-size="25.5">DATE</text>
<text class="t" transform="translate(2156.24 2023.2) scale(0.9827 1.0000)" font-size="25.5">DATE</text>
<text class="t" transform="translate(2156.24 2076.8) scale(0.9827 1.0000)" font-size="25.5">DATE</text>
<text class="t" transform="translate(2419.47 1914.9) scale(0.9756 1.0000)" font-size="25.5">SCALE: N/A</text>
<text class="t" x="2418.59" y="1970.5" font-size="25.5">VIEW:</text>
<text class="t" transform="translate(2422.37 2027.7) scale(0.9823 1.0000)" font-size="25.5">UNIT: mm</text>
<text class="t" transform="translate(2425.36 2078.8) scale(0.9887 1.0000)" font-size="25.5">SIZE: A4</text>
<circle cx="2509.6" cy="1960.9" r="13.5" stroke-width="1"/>
<circle cx="2509.6" cy="1960.9" r="6" stroke-width="1"/>
<line x1="2491.4" y1="1960.9" x2="2573" y2="1960.9" stroke-width="1"/>
<line x1="2509.6" y1="1943.5" x2="2509.6" y2="1980.5" stroke-width="1"/>
<path d="M2533 1952.7 L2564.5 1947.9 L2564.5 1974.2 L2533 1969.4 Z" stroke-width="1"/>
<text class="ts" transform="translate(1933.7 2141.8) scale(0.9765 1.0000)" font-size="32" style="stroke:#fff;stroke-width:0.5px">KOSOD TECHNOLOGY CO., LTD</text>
<line x1="2575.6" y1="1948.6" x2="2987.5" y2="1948.6"/>
<line x1="2575.6" y1="2021.6" x2="2987.5" y2="2021.6"/>
<line x1="2575.6" y1="2093.4" x2="2987.5" y2="2093.4"/>
<line x1="2575.6" y1="2125.7" x2="2987.5" y2="2125.7"/>
<line x1="2711.2" y1="2093.4" x2="2711.2" y2="2158.3"/>
<line x1="2848.6" y1="2093.4" x2="2848.6" y2="2158.3"/>
<text class="t" transform="translate(2582.22 1902.8) scale(1.0540 1.0000)" font-size="24">MODEL TYPE:</text>
<text class="t" transform="translate(2704.83 1936.2) scale(1.0365 1.0000)" font-size="29">DC POWER JACK</text>
<text class="t" transform="translate(2584.8 1979) scale(1.0643 1.0000)" font-size="24">PART NO.:</text>
<text class="t" transform="translate(2581.42 2050) scale(1.0571 1.0000)" font-size="24">DWG NO.:</text>
<text class="t" transform="translate(2731.63 2076) scale(1.0384 1.0000)" font-size="29">DC-017-2.5A-2.5</text>
<text class="t" transform="translate(2592.69 2120.7) scale(1.0163 1.0000)" font-size="24.5">WEIGHT</text>
<text class="t" transform="translate(2734.36 2120.7) scale(1.0274 1.0000)" font-size="24.5">SHEET</text>
<text class="t" transform="translate(2854.43 2120.7) scale(1.0303 1.0000)" font-size="24.5">REVISION</text>
<text class="t" transform="translate(2616.81 2151.5) scale(1.0127 1.0000)" font-size="24.5">1.0g</text>
<text class="t" transform="translate(2764.27 2154.5) scale(0.9292 1.0000)" font-size="24.5">1/1</text>
<text class="t" transform="translate(2905.25 2153.5) scale(1.0289 1.0000)" font-size="24.5">A0</text>
<circle cx="270.5" cy="2217" r="0.9" style="fill:#555;stroke:none"/>
</svg>
</body></html>
